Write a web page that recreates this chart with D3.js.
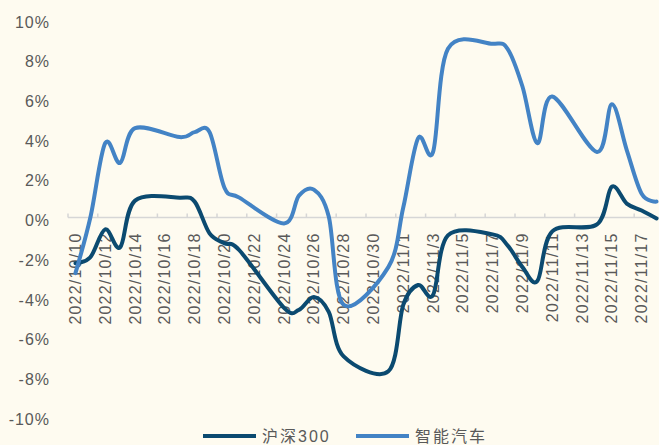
<!DOCTYPE html>
<html>
<head>
<meta charset="utf-8">
<script src="https://cdn.jsdelivr.net/npm/d3@7"></script>
<style>
  html, body { margin: 0; padding: 0; background: #fefbf0; }
  svg { display: block; }
</style>
</head>
<body>
<svg id="chart" width="659" height="445"></svg>
<script>
// calendar days on the axis (labels every other day)
var days = ["2022/10/10","2022/10/11","2022/10/12","2022/10/13","2022/10/14","2022/10/15","2022/10/16",
  "2022/10/17","2022/10/18","2022/10/19","2022/10/20","2022/10/21","2022/10/22","2022/10/23",
  "2022/10/24","2022/10/25","2022/10/26","2022/10/27","2022/10/28","2022/10/29","2022/10/30",
  "2022/10/31","2022/11/1","2022/11/2","2022/11/3","2022/11/4","2022/11/5","2022/11/6",
  "2022/11/7","2022/11/8","2022/11/9","2022/11/10","2022/11/11","2022/11/12","2022/11/13",
  "2022/11/14","2022/11/15","2022/11/16","2022/11/17","2022/11/18"];

// trading days that carry values
var tradeDays = ["2022/10/10","2022/10/11","2022/10/12","2022/10/13","2022/10/14",
  "2022/10/17","2022/10/18","2022/10/19","2022/10/20","2022/10/21",
  "2022/10/24","2022/10/25","2022/10/26","2022/10/27","2022/10/28",
  "2022/10/31","2022/11/1","2022/11/2","2022/11/3","2022/11/4",
  "2022/11/7","2022/11/8","2022/11/9","2022/11/10","2022/11/11",
  "2022/11/14","2022/11/15","2022/11/16","2022/11/17","2022/11/18"];

var hs300 = [-2.3, -2.0, -0.6, -1.5, 0.85,
  1.0, 0.8, -0.8, -1.3, -1.65,
  -4.55, -4.65, -4.0, -4.75, -7.0,
  -7.75, -4.4, -3.4, -3.9, -0.9,
  -0.85, -1.4, -2.5, -3.2, -0.7,
  -0.35, 1.55, 0.7, 0.35, -0.05];

var smartCar = [-2.8, 0.0, 3.75, 2.75, 4.5,
  4.05, 4.3, 4.3, 1.5, 1.0,
  -0.3, 1.1, 1.4, 0.05, -4.4,
  -2.5, 0.5, 4.0, 3.3, 8.5,
  8.75, 8.5, 6.6, 3.75, 6.1,
  3.3, 5.7, 3.4, 1.2, 0.8];

var yTicks = [10, 8, 6, 4, 2, 0, -2, -4, -6, -8, -10];

var seriesNames = ["沪深300", "智能汽车"];
var colors = ["#0b4a70", "#4383c5"];

var svg = d3.select("#chart");

var x = d3.scaleBand().domain(days).range([68, 664]).padding(0);
var y = d3.scaleLinear().domain([-10, 10]).range([416, 19]);

var cx = function(d) { return x(d) + x.bandwidth() / 2; };

// y axis labels
svg.append("g").selectAll("text")
  .data(yTicks)
  .enter().append("text")
  .attr("x", 50)
  .attr("y", function(d) { return y(d) + 3; })
  .attr("dy", "0.35em")
  .attr("text-anchor", "end")
  .attr("style", "font-family: 'Liberation Sans', Arial, sans-serif; font-size:16px; letter-spacing:1px; fill:#595959")
  .text(function(d) { return d + "%"; });

// x axis line and ticks
var axisY = y(0);
svg.append("line")
  .attr("x1", 68).attr("x2", 664)
  .attr("y1", axisY).attr("y2", axisY)
  .attr("stroke", "#d6d6d6").attr("stroke-width", 1.5);

var tickDays = days.filter(function(d, i) { return i % 2 === 0; });
svg.append("g").selectAll("line")
  .data(tickDays)
  .enter().append("line")
  .attr("x1", function(d) { return x(d); })
  .attr("x2", function(d) { return x(d); })
  .attr("y1", axisY - 4).attr("y2", axisY)
  .attr("stroke", "#d6d6d6").attr("stroke-width", 1.5);

// rotated date labels
svg.append("g").selectAll("text")
  .data(tickDays)
  .enter().append("text")
  .attr("transform", function(d) { return "translate(" + cx(d) + "," + (axisY + 15) + ") rotate(-90)"; })
  .attr("dy", "0.35em")
  .attr("text-anchor", "end")
  .attr("style", "font-family: 'Liberation Sans', Arial, sans-serif; font-size:16px; letter-spacing:1.2px; fill:#595959")
  .text(function(d) { return d; });

// lines
var line = d3.line()
  .x(function(d) { return cx(d[0]); })
  .y(function(d) { return y(d[1]); })
  .curve(d3.curveCardinal.tension(0));

[hs300, smartCar].forEach(function(vals, k) {
  svg.append("path")
    .datum(tradeDays.map(function(d, i) { return [d, vals[i]]; }))
    .attr("fill", "none")
    .attr("stroke", colors[k])
    .attr("stroke-width", 4)
    .attr("stroke-linejoin", "round")
    .attr("stroke-linecap", "round")
    .attr("d", line);
});

// legend
var legendX = [203, 356];
seriesNames.forEach(function(name, k) {
  var g = svg.append("g").attr("transform", "translate(" + legendX[k] + ",436)");
  g.append("line")
    .attr("x1", 0).attr("x2", 53)
    .attr("y1", 0).attr("y2", 0)
    .attr("stroke", colors[k]).attr("stroke-width", 4);
  g.append("text")
    .attr("x", 59)
    .attr("dy", "0.35em")
    .attr("style", "font-family: 'Liberation Sans', 'Noto Sans CJK SC', sans-serif; font-size:16px; letter-spacing:2px; fill:#595959")
    .text(name);
});
</script>
</body>
</html>
